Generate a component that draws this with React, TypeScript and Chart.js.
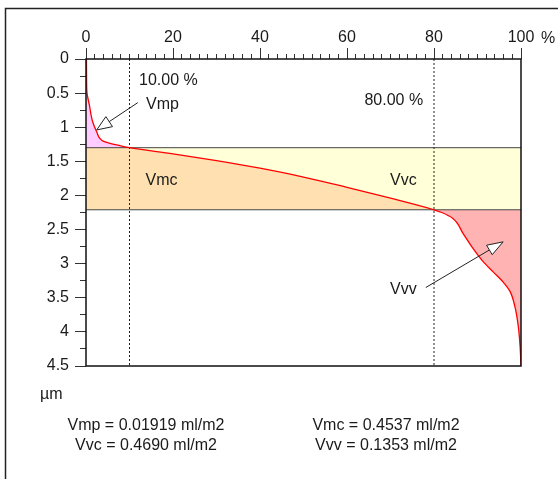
import React, { useEffect, useRef } from 'react';
import { Chart, registerables } from 'chart.js';

Chart.register(...registerables);

// ---- data ----
const depthUm = [0, 0.25, 0.48, 0.674, 0.92, 1.066, 1.19, 1.222, 1.27, 1.3, 1.39, 1.49, 1.6, 1.73, 1.88, 2.04, 2.21, 2.25, 2.34, 2.56, 2.78, 2.97, 3.12, 3.27, 3.41, 3.63, 3.93, 4.22, 4.5];
const materialPct = [0.1, 0.13, 0.2, 0.77, 1.53, 2.45, 3.6, 4.75, 7.8, 10, 20, 30, 40, 50, 60, 70, 80, 81.8, 84.4, 86.7, 89, 91.3, 93.6, 95.9, 97.5, 98.6, 99.4, 99.8, 100];
const ratioMarks = [10, 80];
const heightMarks = [1.3, 2.21];
const xMajorTicks = [0, 20, 40, 60, 80, 100];
const yMajorTicks = [0, 0.5, 1, 1.5, 2, 2.5, 3, 3.5, 4, 4.5];
const volumeNames = ['Vmp', 'Vmc', 'Vvc', 'Vvv'];
const volumeValues = ['0.01919', '0.4537', '0.4690', '0.1353'];
const volumeUnit = 'ml/m2';

// ---- styling ----
const FONT = '"Liberation Sans", Arial, sans-serif';
const TEXT = '#1a1a1a';
const FILL_VMP = '#ffccff';
const FILL_VMC = '#ffe0b0';
const FILL_VVC = '#ffffd8';
const FILL_VVV = '#ffb3b3';

// annotation placement (data coordinates)
const plotLabels = [
  { text: `${ratioMarks[0].toFixed(2)} %`, x: 12.2, y: 0.381, align: 'left' },
  { text: volumeNames[0], x: 13.8, y: 0.737, align: 'left' },
  { text: `${ratioMarks[1].toFixed(2)} %`, x: 77.5, y: 0.674, align: 'right' },
  { text: volumeNames[1], x: 13.7, y: 1.847, align: 'left' },
  { text: volumeNames[2], x: 69.9, y: 1.847, align: 'left' },
  { text: volumeNames[3], x: 69.9, y: 3.445, align: 'left' },
];
const arrows = [
  { from: [11.9, 0.64], to: [2.46, 1.04], len: 15, hw: 6 },
  { from: [78.1, 3.35], to: [95.9, 2.68], len: 16, hw: 5.5 },
];

const isMajor = (v: number, list: number[]) => list.some((m) => Math.abs(m - v) < 1e-9);

const decorPlugin = {
  id: 'decor',
  afterDatasetsDraw(chart: any) {
    const { ctx, chartArea: a, scales } = chart;
    const xs = scales.x;
    const ys = scales.y;
    ctx.save();

    // outer frame
    ctx.strokeStyle = '#222';
    ctx.lineWidth = 1.5;
    ctx.beginPath();
    ctx.moveTo(5.5, chart.height + 2);
    ctx.lineTo(5.5, 8.5);
    ctx.lineTo(chart.width + 2, 8.5);
    ctx.stroke();

    // plot frame
    ctx.strokeStyle = '#111';
    ctx.lineWidth = 1.5;
    ctx.strokeRect(a.left, a.top, a.right - a.left, a.bottom - a.top);

    // arrows
    for (const ar of arrows) {
      const x0 = xs.getPixelForValue(ar.from[0]);
      const y0 = ys.getPixelForValue(ar.from[1]);
      const x1 = xs.getPixelForValue(ar.to[0]);
      const y1 = ys.getPixelForValue(ar.to[1]);
      const dx = x1 - x0;
      const dy = y1 - y0;
      const d = Math.hypot(dx, dy);
      const ux = dx / d;
      const uy = dy / d;
      const bx = x1 - ux * ar.len;
      const by = y1 - uy * ar.len;
      ctx.strokeStyle = '#222';
      ctx.lineWidth = 1;
      ctx.beginPath();
      ctx.moveTo(x0, y0);
      ctx.lineTo(bx, by);
      ctx.stroke();
      ctx.beginPath();
      ctx.moveTo(x1, y1);
      ctx.lineTo(bx - uy * ar.hw, by + ux * ar.hw);
      ctx.lineTo(bx + uy * ar.hw, by - ux * ar.hw);
      ctx.closePath();
      ctx.fillStyle = '#ffffff';
      ctx.fill();
      ctx.stroke();
    }

    // in-plot labels
    ctx.font = `16px ${FONT}`;
    ctx.fillStyle = TEXT;
    ctx.textBaseline = 'alphabetic';
    for (const l of plotLabels) {
      ctx.textAlign = l.align as CanvasTextAlign;
      ctx.fillText(l.text, xs.getPixelForValue(l.x), ys.getPixelForValue(l.y));
    }

    // axis units
    ctx.textAlign = 'left';
    ctx.fillText('%', a.right + 20, a.top - 16);
    ctx.fillText('µm', a.left - 46, a.bottom + 33);

    // volume results
    ctx.textAlign = 'center';
    const cols = [a.left + 60, a.left + 300];
    const rows = [a.bottom + 64, a.bottom + 84];
    const order = [0, 1, 2, 3];
    order.forEach((k) => {
      const col = k % 2;
      const row = Math.floor(k / 2);
      ctx.fillText(`${volumeNames[k === 1 ? 1 : k === 2 ? 2 : k]} = ${volumeValues[k]} ${volumeUnit}`, cols[col], rows[row]);
    });

    ctx.restore();
  },
};

export default function App() {
  const ref = useRef<HTMLCanvasElement | null>(null);

  useEffect(() => {
    if (!ref.current) return;
    const pts = depthUm.map((d, i) => ({ x: materialPct[i], y: d }));
    const upper = pts.filter((p) => p.y <= heightMarks[0]);
    const core = pts.filter((p) => p.y >= heightMarks[0] && p.y <= heightMarks[1]);
    const lower = pts.filter((p) => p.y >= heightMarks[1]);
    const none = 'rgba(0,0,0,0)';
    const base = { pointRadius: 0, pointHoverRadius: 0 };

    const chart = new Chart(ref.current, {
      type: 'line',
      data: {
        datasets: [
          { ...base, data: pts, borderColor: '#ff0000', borderWidth: 1.3, cubicInterpolationMode: 'monotone', fill: false },
          ...ratioMarks.map((r) => ({ ...base, data: [{ x: r, y: 0 }, { x: r, y: 4.5 }], borderColor: '#222', borderWidth: 1, borderDash: [2, 2], fill: false })),
          ...heightMarks.map((h) => ({ ...base, data: [{ x: 0, y: h }, { x: 100, y: h }], borderColor: '#444', borderWidth: 1, fill: false })),
          { ...base, data: upper, borderColor: none, backgroundColor: FILL_VMP, cubicInterpolationMode: 'monotone', fill: { value: 0 } },
          { ...base, data: core, borderColor: none, backgroundColor: FILL_VMC, cubicInterpolationMode: 'monotone', fill: { value: 0 } },
          { ...base, data: lower, borderColor: none, backgroundColor: FILL_VVV, cubicInterpolationMode: 'monotone', fill: { value: 100 } },
          { ...base, data: [{ x: 100, y: heightMarks[0] }, { x: 100, y: heightMarks[1] }], borderColor: none, backgroundColor: FILL_VVC, fill: { value: 0 } },
        ] as any,
      },
      options: {
        indexAxis: 'y',
        responsive: false,
        animation: false,
        events: [],
        layout: { padding: { left: 0, top: 0, right: 37, bottom: 113 } },
        plugins: { legend: { display: false }, tooltip: { enabled: false }, title: { display: false } },
        scales: {
          x: {
            type: 'linear',
            position: 'top',
            min: 0,
            max: 100,
            afterFit: (s: any) => { s.height = 59; },
            border: { display: false },
            grid: {
              drawOnChartArea: false,
              drawTicks: true,
              tickLength: 11,
              tickColor: '#333',
              tickWidth: 1,
              tickBorderDash: (c: any) => (isMajor(c.tick.value, xMajorTicks) ? [] : [0, 6, 5, 0]),
            },
            ticks: {
              stepSize: 2,
              autoSkip: false,
              maxRotation: 0,
              minRotation: 0,
              padding: 1,
              color: TEXT,
              font: { family: FONT, size: 16 },
              callback: (v: any) => (isMajor(Number(v), xMajorTicks) ? String(v) : ''),
            },
          },
          y: {
            type: 'linear',
            position: 'left',
            min: 0,
            max: 4.5,
            reverse: true,
            afterFit: (s: any) => { s.width = 86; },
            border: { display: false },
            grid: {
              drawOnChartArea: false,
              drawTicks: true,
              tickLength: 11,
              tickColor: '#333',
              tickWidth: 1,
              tickBorderDash: (c: any) => (isMajor(c.tick.value, yMajorTicks) ? [] : [0, 5, 6, 0]),
            },
            ticks: {
              stepSize: 0.25,
              autoSkip: false,
              padding: 6,
              color: TEXT,
              font: { family: FONT, size: 16 },
              callback: (v: any) => (isMajor(Number(v), yMajorTicks) ? String(v) : ''),
            },
          },
        },
      } as any,
      plugins: [decorPlugin],
    });
    return () => chart.destroy();
  }, []);

  return (
    <div style={{ position: 'fixed', left: 0, top: 0, width: 558, height: 479, background: '#ffffff' }}>
      <canvas ref={ref} width={558} height={479} style={{ display: 'block' }} />
    </div>
  );
}
